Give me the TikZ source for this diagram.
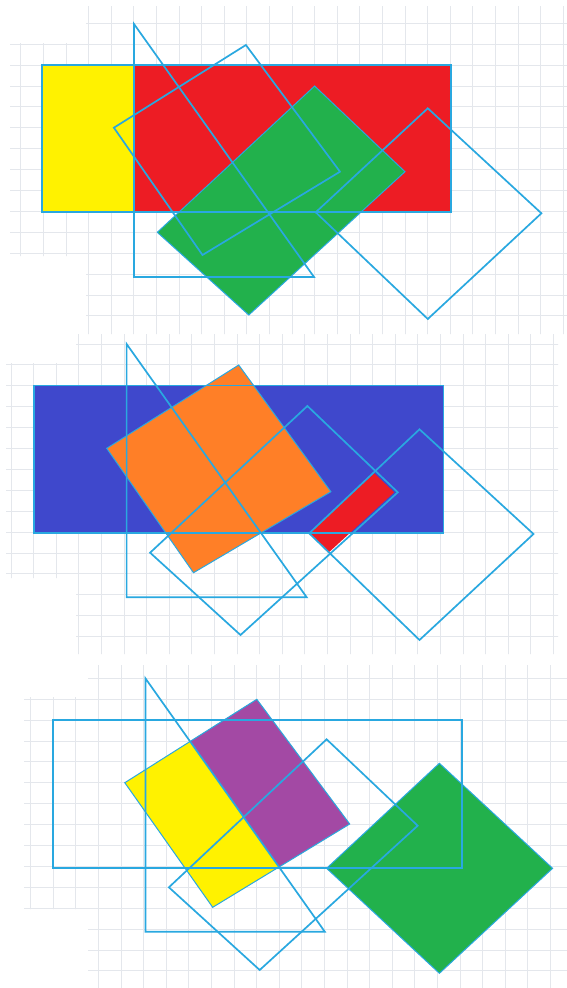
\documentclass[tikz,border=0pt]{standalone}
\usetikzlibrary{calc}
\definecolor{edge}{RGB}{41,168,224}
\definecolor{gridc}{RGB}{228,231,236}
\definecolor{pred}{RGB}{237,28,36}
\definecolor{pyellow}{RGB}{255,242,0}
\definecolor{pgreen}{RGB}{34,177,76}
\definecolor{pblue}{RGB}{63,72,204}
\definecolor{porange}{RGB}{255,127,39}
\definecolor{ppurple}{RGB}{163,73,164}
\tikzset{
  outline/.style={draw=edge,line width=1.7pt,line join=miter},
  thinoutline/.style={draw=edge,line width=1pt},
  gridline/.style={draw=gridc,line width=0.7pt}
}
\newcommand{\paperpatch}[6]{% x0,y0 base, x-from, x-to, y-from, y-to
  \foreach \i in {-6,...,25}{
    \draw[gridline] ({#1+22.6*\i},#5) -- ({#1+22.6*\i},#6);
  }
  \foreach \j in {-6,...,20}{
    \draw[gridline] (#3,{#2+20.9*\j}) -- (#4,{#2+20.9*\j});
  }
}
\begin{document}
\begin{tikzpicture}[x=1pt,y=-1pt]
\useasboundingbox (0,0) rectangle (567,988);
\fill[white] (0,0) rectangle (567,988);

% ---------- grids ----------
\begin{scope}
  \clip (86,6) rectangle (567,334) (10,43) rectangle (90,256);
  \paperpatch{88.6}{65}{0}{567}{0}{340}
\end{scope}
\begin{scope}
  \clip (76,334) rectangle (558,654) (6,363) rectangle (80,578);
  \paperpatch{33.6}{385.7}{0}{567}{330}{660}
\end{scope}
\begin{scope}
  \clip (88,665) rectangle (567,988) (24,697) rectangle (92,909);
  \paperpatch{53.2}{720}{0}{567}{660}{988}
\end{scope}

% ================= PANEL 1 =================
\coordinate (r1a) at (42,65);   \coordinate (r1b) at (451,212);
\coordinate (r1m) at (134,65);  \coordinate (r1n) at (134,212);
\fill[pyellow] (r1a) rectangle (r1n);
\fill[pred] (r1m) rectangle (r1b);
\coordinate (g1) at (314.6,86);  \coordinate (g2) at (157.3,232.3);
\coordinate (g3) at (248.8,315); \coordinate (g4) at (405,171.7);
\fill[pgreen] (g1) -- (g2) -- (g3) -- (g4) -- cycle;
\draw[thinoutline] (g1) -- (g2) -- (g3) -- (g4) -- cycle;
\draw[outline] (r1a) rectangle (r1b);
\coordinate (t1a) at (134,24); \coordinate (t1b) at (134,277); \coordinate (t1c) at (314,277);
\draw[outline] (t1a) -- (t1b) -- (t1c) -- cycle;
\coordinate (s1a) at (245.9,45);  \coordinate (s1b) at (113.9,127.7);
\coordinate (s1c) at (202.5,255); \coordinate (s1d) at (340,171.7);
\draw[outline] (s1a) -- (s1b) -- (s1c) -- (s1d) -- cycle;
\coordinate (q1a) at (427.8,108.3); \coordinate (q1b) at (315.7,212.3);
\coordinate (q1c) at (427.8,319);   \coordinate (q1d) at (541.4,213.3);
\draw[outline] (q1a) -- (q1b) -- (q1c) -- (q1d) -- cycle;

% ================= PANEL 2 =================
\coordinate (r2a) at (34,385.5); \coordinate (r2b) at (443.5,533);
\fill[pblue] (r2a) rectangle (r2b);
\coordinate (o1) at (238.7,365);   \coordinate (o2) at (106.7,448.3);
\coordinate (o3) at (193.5,572.7); \coordinate (o4) at (330.9,491.7);
\fill[porange] (o1) -- (o2) -- (o3) -- (o4) -- cycle;
\coordinate (d1) at (374.3,473.3); \coordinate (d2) at (309.2,533.3);
\coordinate (d3) at (328.4,552.7); \coordinate (d4) at (394.2,492.3);
\fill[pred] (d1) -- (d2) -- (d3) -- (d4) -- cycle;
\draw[thinoutline] (o1) -- (o2) -- (o3) -- (o4) -- cycle;
\draw[outline] (r2a) rectangle (r2b);
\coordinate (t2a) at (126.6,344); \coordinate (t2b) at (126.6,597.3); \coordinate (t2c) at (306.7,597.3);
\draw[outline] (t2a) -- (t2b) -- (t2c) -- cycle;
\coordinate (s2a) at (307.4,406);   \coordinate (s2b) at (150.1,552.7);
\coordinate (s2c) at (240.5,635);   \coordinate (s2d) at (397.8,492.3);
\draw[outline] (s2a) -- (s2b) -- (s2c) -- (s2d) -- cycle;
\coordinate (q2a) at (419.5,429.3); \coordinate (q2b) at (309.2,533.3);
\coordinate (q2c) at (419.5,640);   \coordinate (q2d) at (533.5,534);
\draw[outline] (q2a) -- (q2b) -- (q2c) -- (q2d) -- cycle;

% ================= PANEL 3 =================
\coordinate (p1) at (256.8,699.3); \coordinate (p2) at (124.8,782.7);
\coordinate (p3) at (212.7,907.3); \coordinate (p4) at (349.7,824);
\fill[pyellow] (p1) -- (p2) -- (p3) -- (p4) -- cycle;
\begin{scope}
  \clip (-34,425) -- (504.2,1185.1) -- (700,1185) -- (700,425) -- cycle;
  \fill[ppurple] (p1) -- (p2) -- (p3) -- (p4) -- cycle;
\end{scope}
\coordinate (e1) at (439.4,763.3); \coordinate (e2) at (326.6,868.3);
\coordinate (e3) at (439.4,973.3); \coordinate (e4) at (552.6,868.3);
\fill[pgreen] (e1) -- (e2) -- (e3) -- (e4) -- cycle;
\draw[thinoutline] (e1) -- (e2) -- (e3) -- (e4) -- cycle;
\draw[thinoutline] (p1) -- (p2) -- (p3) -- (p4) -- cycle;
\coordinate (r3a) at (53,720); \coordinate (r3b) at (462,867.7);
\draw[outline] (r3a) rectangle (r3b);
\coordinate (t3a) at (145.4,678.3); \coordinate (t3b) at (145.4,931.7); \coordinate (t3c) at (324.8,931.7);
\draw[outline] (t3a) -- (t3b) -- (t3c) -- cycle;
\coordinate (s3a) at (326.6,739.3); \coordinate (s3b) at (168.9,887.3);
\coordinate (s3c) at (259.7,970);   \coordinate (s3d) at (417.7,825.7);
\draw[outline] (s3a) -- (s3b) -- (s3c) -- (s3d) -- cycle;
\end{tikzpicture}
\end{document}
